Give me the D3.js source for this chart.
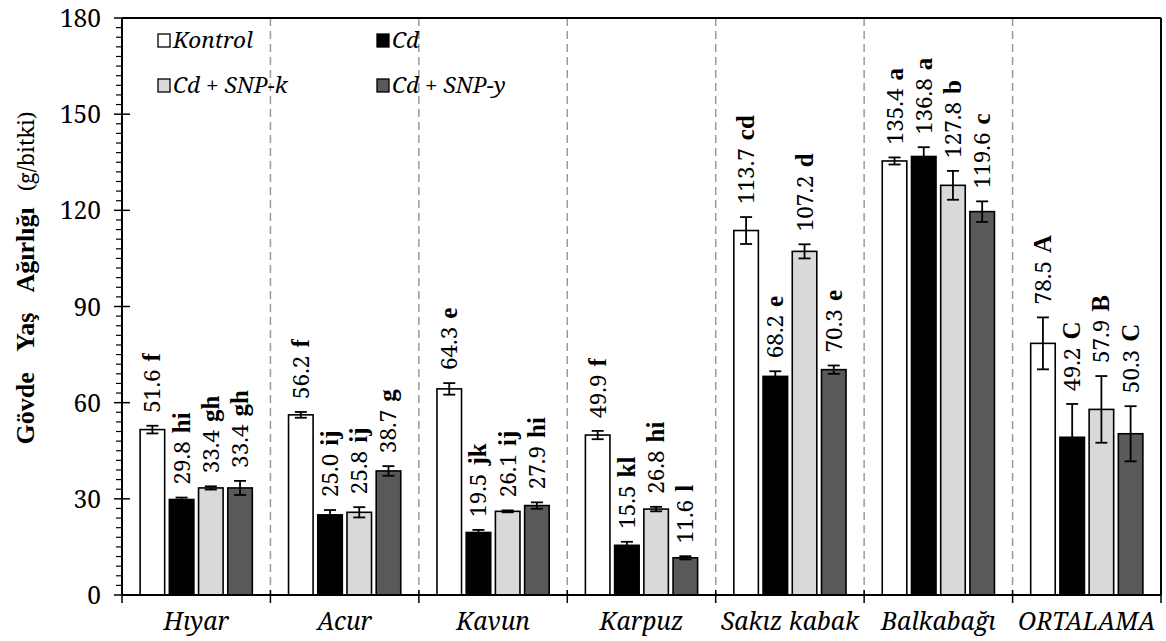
<!DOCTYPE html>
<html>
<head>
<meta charset="utf-8">
<script src="https://cdn.jsdelivr.net/npm/d3@7"></script>
</head>
<body style="margin:0">
<svg id="s" width="1166" height="641"></svg>
<script>
// Plant groups and treatments
const categories = ["Hıyar", "Acur", "Kavun", "Karpuz", "Sakız kabak", "Balkabağı", "ORTALAMA"];
const seriesNames = ["Kontrol", "Cd", "Cd + SNP-k", "Cd + SNP-y"];

// Shoot fresh weight (g/plant) per treatment
const kontrol = [51.6, 56.2, 64.3, 49.9, 113.7, 135.4, 78.5];
const cd      = [29.8, 25.0, 19.5, 15.5, 68.2, 136.8, 49.2];
const cdSnpK  = [33.4, 25.8, 26.1, 26.8, 107.2, 127.8, 57.9];
const cdSnpY  = [33.4, 38.7, 27.9, 11.6, 70.3, 119.6, 50.3];

// Standard errors
const kontrolErr = [1.2, 0.9, 1.8, 1.3, 4.2, 1.1, 8.1];
const cdErr      = [0.6, 1.5, 0.8, 1.1, 1.6, 2.9, 10.4];
const cdSnpKErr  = [0.5, 1.6, 0.3, 0.7, 2.2, 4.5, 10.4];
const cdSnpYErr  = [2.2, 1.5, 1.0, 0.5, 1.3, 3.2, 8.6];

// Significance letters
const kontrolLetters = ["f", "f", "e", "f", "cd", "a", "A"];
const cdLetters      = ["hi", "ij", "jk", "kl", "e", "a", "C"];
const cdSnpKLetters  = ["gh", "ij", "ij", "hi", "d", "b", "B"];
const cdSnpYLetters  = ["gh", "g", "hi", "l", "e", "c", "C"];

const yTicks = [0, 30, 60, 90, 120, 150, 180];
const fills = ["#ffffff", "#000000", "#d9d9d9", "#595959"];
const FONT = "Noto Serif";
const BOLD_FONT = "Liberation Serif";

const seriesValues  = [kontrol, cd, cdSnpK, cdSnpY];
const seriesErrors  = [kontrolErr, cdErr, cdSnpKErr, cdSnpYErr];
const seriesLetters = [kontrolLetters, cdLetters, cdSnpKLetters, cdSnpYLetters];

const rows = [];
categories.forEach((c, i) => {
  seriesNames.forEach((s, j) => {
    rows.push({ cat: c, ser: s, si: j, v: seriesValues[j][i], e: seriesErrors[j][i], l: seriesLetters[j][i] });
  });
});

const svg = d3.select("#s");
const m = { left: 122, right: 1161, top: 18, bottom: 595 };

const x0 = d3.scaleBand().domain(categories).range([m.left, m.right]).padding(0);
const x1 = d3.scaleBand().domain(seriesNames).range([0, x0.bandwidth()])
  .paddingInner(0.16).paddingOuter(0.62);
const y = d3.scaleLinear().domain([0, 180]).range([m.bottom, m.top]);

// font helpers
function serif(sel) {
  return sel.attr("font-family", FONT).style("font-family", FONT);
}
function serifBold(sel) {
  return sel.attr("font-family", BOLD_FONT).style("font-family", BOLD_FONT).attr("font-weight", "bold");
}

// group separators
const bounds = d3.range(categories.length + 1).map(i => m.left + i * x0.step());
svg.append("g").selectAll("line").data(bounds.slice(1, -1)).join("line")
  .attr("x1", d => d).attr("x2", d => d)
  .attr("y1", m.top).attr("y2", m.bottom)
  .attr("stroke", "#9a9a9a").attr("stroke-width", 1.5)
  .attr("stroke-dasharray", "8,5");

// bars
svg.append("g").selectAll("rect").data(rows).join("rect")
  .attr("x", d => x0(d.cat) + x1(d.ser))
  .attr("y", d => y(d.v))
  .attr("width", x1.bandwidth())
  .attr("height", d => y(0) - y(d.v))
  .attr("fill", d => fills[d.si])
  .attr("stroke", "#000").attr("stroke-width", 1.6);

// error bars
const eb = svg.append("g").attr("stroke", "#000").attr("stroke-width", 1.8);
rows.forEach(d => {
  const cx = x0(d.cat) + x1(d.ser) + x1.bandwidth() / 2;
  const y1 = y(d.v + d.e), y2 = y(d.v - d.e);
  eb.append("line").attr("x1", cx).attr("x2", cx).attr("y1", y1).attr("y2", y2);
  eb.append("line").attr("x1", cx - 6).attr("x2", cx + 6).attr("y1", y1).attr("y2", y1);
  eb.append("line").attr("x1", cx - 6).attr("x2", cx + 6).attr("y1", y2).attr("y2", y2);
});

// value labels with letters
rows.forEach(d => {
  const cx = x0(d.cat) + x1(d.ser) + x1.bandwidth() / 2;
  const ty = y(d.v + d.e) - 13;
  const t = svg.append("text")
    .attr("transform", `translate(${cx + 8},${ty}) rotate(-90)`)
    .attr("font-size", 22.5);
  serif(t);
  serif(t.append("tspan")).text(d.v.toFixed(1));
  serifBold(t.append("tspan")).attr("dx", 8).attr("font-size", 25).text(d.l);
});

// y axis with minor ticks
const ax = svg.append("g").attr("stroke", "#000");
d3.range(0, 181, 3).forEach(v => {
  if (v % 30 === 0) {
    ax.append("line").attr("x1", m.left - 8).attr("x2", m.left + 8)
      .attr("y1", y(v)).attr("y2", y(v)).attr("stroke-width", 1.5);
  } else {
    ax.append("line").attr("x1", m.left - 6).attr("x2", m.left)
      .attr("y1", y(v)).attr("y2", y(v)).attr("stroke-width", 1.2);
  }
});
yTicks.forEach(v => {
  serif(svg.append("text")
    .attr("x", m.left - 21).attr("y", y(v) + 9)
    .attr("text-anchor", "end").attr("font-size", 24.5)
    .text(v));
});

// x ticks
ax.selectAll(null).data(bounds).join("line")
  .attr("x1", d => d).attr("x2", d => d)
  .attr("y1", m.bottom - 5).attr("y2", m.bottom + 8)
  .attr("stroke-width", 1.5);

// frame
[[m.left, m.top, m.left, m.bottom], [m.left, m.bottom, m.right, m.bottom],
 [m.left, m.top, m.right, m.top], [m.right, m.top, m.right, m.bottom]].forEach(([a, b, c, e]) => {
  svg.append("line").attr("x1", a).attr("y1", b).attr("x2", c).attr("y2", e)
    .attr("stroke", "#000").attr("stroke-width", 2);
});

// category labels
categories.forEach(c => {
  serif(svg.append("text")
    .attr("x", x0(c) + x0.bandwidth() / 2).attr("y", 630)
    .attr("text-anchor", "middle").attr("font-size", 24.5)
    .attr("font-style", "italic")
    .text(c));
});

// y title
const yt = svg.append("text")
  .attr("transform", "translate(34,278) rotate(-90)")
  .attr("text-anchor", "middle").attr("font-size", 26);
serifBold(yt);
serifBold(yt.append("tspan")).attr("word-spacing", 15).text("Gövde Yaş Ağırlığı");
serif(yt.append("tspan")).attr("font-weight", "normal").attr("dx", 16).attr("font-size", 21.5).text("(g/bitki)");

// legend
const legPos = [[158, 48], [377, 48], [158, 93], [377, 93]];
seriesNames.forEach((s, i) => {
  const [lx, ly] = legPos[i];
  svg.append("rect").attr("x", lx).attr("y", ly - 14).attr("width", 12).attr("height", 13)
    .attr("fill", fills[i]).attr("stroke", "#000").attr("stroke-width", 1.3);
  serif(svg.append("text").attr("x", lx + 15).attr("y", ly)
    .attr("font-size", 22.5).attr("font-style", "italic").text(s));
});
</script>
</body>
</html>
